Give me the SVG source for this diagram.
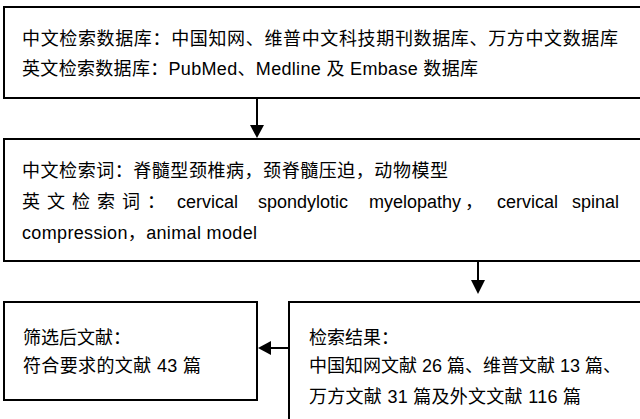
<svg xmlns="http://www.w3.org/2000/svg" width="640" height="419" viewBox="0 0 640 419">
<style>
.box{fill:#fff;stroke:#000;stroke-width:2}
.t{font-family:"Liberation Sans","Noto Sans CJK SC",sans-serif;font-size:18px;fill:#000}
.ln{stroke:#000;stroke-width:2;fill:none}
.ah{fill:#000}
</style>
<rect width="640" height="419" fill="#fff"/>
<g id="n1">
<rect class="box" x="4" y="7" width="650" height="91"/>
<text class="t" x="22" y="45" textLength="596" lengthAdjust="spacing">中文检索数据库：中国知网、维普中文科技期刊数据库、万方中文数据库</text>
<text class="t" x="22" y="75" textLength="456" lengthAdjust="spacing">英文检索数据库：PubMed、Medline 及 Embase 数据库</text>
</g>
<g id="n2">
<rect class="box" x="4" y="139" width="650" height="122"/>
<text class="t" x="22" y="177" textLength="426" lengthAdjust="spacing">中文检索词：脊髓型颈椎病，颈脊髓压迫，动物模型</text>
<text class="t" y="208"><tspan x="22">英</tspan><tspan x="47">文</tspan><tspan x="72">检</tspan><tspan x="97">索</tspan><tspan x="122">词</tspan><tspan x="147">：</tspan><tspan x="177">cervical</tspan><tspan x="258">spondylotic</tspan><tspan x="369">myelopathy</tspan><tspan x="465">，</tspan><tspan x="497">cervical</tspan><tspan x="572">spinal</tspan></text>
<text class="t" x="22" y="239" textLength="235" lengthAdjust="spacing">compression，animal model</text>
</g>
<g id="n3">
<rect class="box" x="289" y="302" width="360" height="130"/>
<text class="t" x="309" y="344">检索结果：</text>
<text class="t" x="309" y="372" textLength="312" lengthAdjust="spacing">中国知网文献 26 篇、维普文献 13 篇、</text>
<text class="t" x="309" y="403" textLength="272" lengthAdjust="spacing">万方文献 31 篇及外文文献 116 篇</text>
</g>
<g id="n4">
<rect class="box" x="4" y="302" width="253" height="98"/>
<text class="t" x="23" y="344">筛选后文献：</text>
<text class="t" x="23" y="372" textLength="178" lengthAdjust="spacing">符合要求的文献 43 篇</text>
</g>
<g id="connectors">
<line class="ln" x1="257" y1="99" x2="257" y2="126"/>
<polygon class="ah" points="250,125 264,125 257,138"/>
<line class="ln" x1="478" y1="262" x2="478" y2="281"/>
<polygon class="ah" points="471,280 485,280 478,294"/>
<line class="ln" x1="288" y1="348" x2="270" y2="348"/>
<polygon class="ah" points="271,341 271,355 258,348"/>
</g>
</svg>
